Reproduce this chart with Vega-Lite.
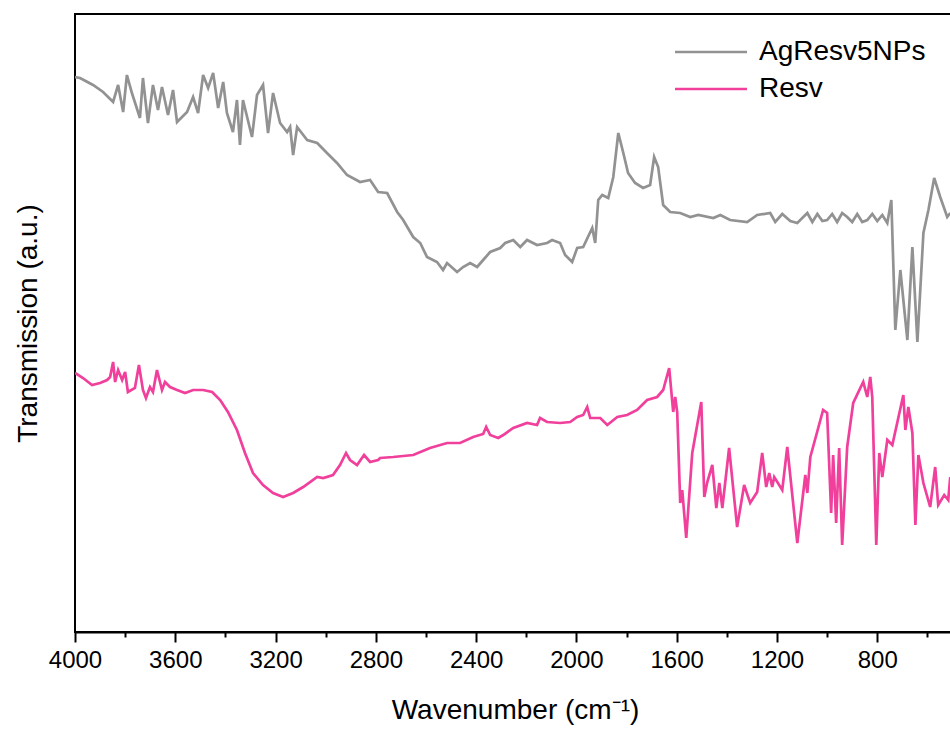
{
  "$schema": "https://vega.github.io/schema/vega-lite/v6.json",
  "width": 880,
  "height": 618,
  "autosize": {"type": "none"},
  "padding": {"left": 75, "top": 14, "right": 0, "bottom": 98},
  "background": "white",
  "config": {
    "view": {"stroke": "black", "strokeWidth": 2},
    "font": "Liberation Sans"
  },
  "datasets": {
    "ag": [
      {"wn":4000,"t":555},{"wn":3980,"t":554},{"wn":3928,"t":547},{"wn":3888,"t":540},{"wn":3848,"t":530},{"wn":3828,"t":547},{"wn":3808,"t":520},{"wn":3793,"t":557},{"wn":3773,"t":539},{"wn":3741,"t":514},{"wn":3729,"t":554},{"wn":3709,"t":509},{"wn":3689,"t":547},{"wn":3669,"t":522},{"wn":3653,"t":545},{"wn":3629,"t":517},{"wn":3609,"t":542},{"wn":3593,"t":510},{"wn":3553,"t":520},{"wn":3529,"t":535},{"wn":3509,"t":519},{"wn":3489,"t":557},{"wn":3469,"t":544},{"wn":3449,"t":559},{"wn":3429,"t":524},{"wn":3409,"t":550},{"wn":3394,"t":519},{"wn":3370,"t":500},{"wn":3354,"t":532},{"wn":3342,"t":487},{"wn":3330,"t":532},{"wn":3294,"t":495},{"wn":3274,"t":537},{"wn":3250,"t":547},{"wn":3230,"t":499},{"wn":3210,"t":539},{"wn":3182,"t":509},{"wn":3154,"t":500},{"wn":3142,"t":505},{"wn":3130,"t":477},{"wn":3114,"t":505},{"wn":3074,"t":492},{"wn":3034,"t":489},{"wn":2995,"t":479},{"wn":2955,"t":469},{"wn":2915,"t":457},{"wn":2863,"t":450},{"wn":2823,"t":452},{"wn":2791,"t":440},{"wn":2755,"t":439},{"wn":2715,"t":420},{"wn":2691,"t":412},{"wn":2651,"t":395},{"wn":2623,"t":389},{"wn":2596,"t":375},{"wn":2556,"t":370},{"wn":2532,"t":362},{"wn":2516,"t":369},{"wn":2476,"t":360},{"wn":2452,"t":365},{"wn":2424,"t":369},{"wn":2396,"t":365},{"wn":2372,"t":372},{"wn":2344,"t":380},{"wn":2304,"t":384},{"wn":2284,"t":389},{"wn":2252,"t":392},{"wn":2224,"t":385},{"wn":2197,"t":392},{"wn":2157,"t":387},{"wn":2117,"t":389},{"wn":2097,"t":392},{"wn":2065,"t":389},{"wn":2045,"t":377},{"wn":2017,"t":370},{"wn":1997,"t":384},{"wn":1973,"t":385},{"wn":1937,"t":404},{"wn":1925,"t":389},{"wn":1913,"t":432},{"wn":1897,"t":437},{"wn":1873,"t":434},{"wn":1853,"t":455},{"wn":1833,"t":499},{"wn":1813,"t":479},{"wn":1794,"t":459},{"wn":1766,"t":449},{"wn":1734,"t":444},{"wn":1706,"t":447},{"wn":1690,"t":475},{"wn":1674,"t":465},{"wn":1654,"t":427},{"wn":1626,"t":420},{"wn":1586,"t":419},{"wn":1546,"t":415},{"wn":1514,"t":417},{"wn":1454,"t":414},{"wn":1426,"t":417},{"wn":1387,"t":412},{"wn":1319,"t":410},{"wn":1279,"t":417},{"wn":1227,"t":419},{"wn":1207,"t":410},{"wn":1179,"t":418},{"wn":1147,"t":411},{"wn":1119,"t":409},{"wn":1079,"t":419},{"wn":1059,"t":410},{"wn":1039,"t":418},{"wn":1019,"t":411},{"wn":1000,"t":412},{"wn":980,"t":418},{"wn":960,"t":410},{"wn":940,"t":419},{"wn":920,"t":415},{"wn":900,"t":410},{"wn":880,"t":418},{"wn":860,"t":410},{"wn":840,"t":412},{"wn":820,"t":418},{"wn":800,"t":411},{"wn":780,"t":417},{"wn":760,"t":409},{"wn":744,"t":432},{"wn":728,"t":302},{"wn":708,"t":362},{"wn":680,"t":292},{"wn":660,"t":385},{"wn":640,"t":290},{"wn":616,"t":399},{"wn":596,"t":422},{"wn":573,"t":454},{"wn":549,"t":435},{"wn":521,"t":415},{"wn":509,"t":419}
    ],
    "resv": [
      {"wn":4000,"t":259},{"wn":3968,"t":254},{"wn":3932,"t":247},{"wn":3900,"t":249},{"wn":3872,"t":252},{"wn":3860,"t":255},{"wn":3848,"t":270},{"wn":3840,"t":250},{"wn":3828,"t":262},{"wn":3812,"t":252},{"wn":3800,"t":260},{"wn":3789,"t":240},{"wn":3761,"t":244},{"wn":3745,"t":267},{"wn":3729,"t":242},{"wn":3717,"t":234},{"wn":3701,"t":245},{"wn":3689,"t":240},{"wn":3673,"t":262},{"wn":3653,"t":242},{"wn":3641,"t":250},{"wn":3621,"t":245},{"wn":3593,"t":242},{"wn":3561,"t":239},{"wn":3529,"t":242},{"wn":3489,"t":242},{"wn":3453,"t":240},{"wn":3421,"t":232},{"wn":3390,"t":220},{"wn":3354,"t":202},{"wn":3322,"t":179},{"wn":3290,"t":159},{"wn":3250,"t":147},{"wn":3210,"t":139},{"wn":3170,"t":135},{"wn":3130,"t":139},{"wn":3090,"t":145},{"wn":3034,"t":155},{"wn":3010,"t":154},{"wn":2971,"t":157},{"wn":2943,"t":167},{"wn":2919,"t":179},{"wn":2903,"t":172},{"wn":2875,"t":167},{"wn":2847,"t":177},{"wn":2823,"t":170},{"wn":2791,"t":172},{"wn":2783,"t":174},{"wn":2731,"t":175},{"wn":2651,"t":177},{"wn":2584,"t":184},{"wn":2516,"t":189},{"wn":2464,"t":189},{"wn":2412,"t":195},{"wn":2372,"t":198},{"wn":2360,"t":205},{"wn":2344,"t":197},{"wn":2312,"t":194},{"wn":2292,"t":197},{"wn":2252,"t":204},{"wn":2197,"t":209},{"wn":2157,"t":207},{"wn":2145,"t":214},{"wn":2117,"t":210},{"wn":2065,"t":209},{"wn":2025,"t":210},{"wn":1997,"t":215},{"wn":1973,"t":217},{"wn":1957,"t":225},{"wn":1945,"t":214},{"wn":1905,"t":214},{"wn":1877,"t":207},{"wn":1837,"t":215},{"wn":1798,"t":217},{"wn":1758,"t":222},{"wn":1718,"t":232},{"wn":1678,"t":235},{"wn":1654,"t":242},{"wn":1630,"t":264},{"wn":1614,"t":220},{"wn":1606,"t":235},{"wn":1598,"t":220},{"wn":1586,"t":129},{"wn":1578,"t":142},{"wn":1562,"t":94},{"wn":1538,"t":179},{"wn":1502,"t":230},{"wn":1490,"t":135},{"wn":1478,"t":150},{"wn":1458,"t":167},{"wn":1442,"t":124},{"wn":1430,"t":149},{"wn":1418,"t":124},{"wn":1391,"t":184},{"wn":1359,"t":105},{"wn":1331,"t":147},{"wn":1307,"t":129},{"wn":1279,"t":140},{"wn":1259,"t":179},{"wn":1243,"t":145},{"wn":1231,"t":159},{"wn":1219,"t":145},{"wn":1211,"t":155},{"wn":1179,"t":142},{"wn":1159,"t":185},{"wn":1119,"t":89},{"wn":1087,"t":157},{"wn":1079,"t":139},{"wn":1067,"t":175},{"wn":1016,"t":222},{"wn":1000,"t":219},{"wn":984,"t":119},{"wn":976,"t":177},{"wn":964,"t":109},{"wn":952,"t":184},{"wn":940,"t":87},{"wn":920,"t":185},{"wn":896,"t":229},{"wn":856,"t":250},{"wn":840,"t":235},{"wn":828,"t":255},{"wn":820,"t":235},{"wn":804,"t":87},{"wn":792,"t":179},{"wn":780,"t":155},{"wn":760,"t":192},{"wn":740,"t":187},{"wn":696,"t":237},{"wn":688,"t":202},{"wn":676,"t":225},{"wn":660,"t":199},{"wn":648,"t":107},{"wn":636,"t":177},{"wn":616,"t":149},{"wn":589,"t":125},{"wn":569,"t":165},{"wn":557,"t":127},{"wn":533,"t":137},{"wn":517,"t":132},{"wn":509,"t":155}
    ]
  },
  "layer": [
    {
      "data": {"name": "ag"},
      "transform": [{"calculate": "'AgResv5NPs'", "as": "series"}],
      "mark": {"type": "line", "strokeWidth": 2.7, "clip": true},
      "encoding": {
        "x": {"field": "wn", "type": "quantitative"},
        "y": {"field": "t", "type": "quantitative"},
        "color": {"field": "series", "type": "nominal"}
      }
    },
    {
      "data": {"name": "resv"},
      "transform": [{"calculate": "'Resv'", "as": "series"}],
      "mark": {"type": "line", "strokeWidth": 2.7, "clip": true},
      "encoding": {
        "x": {"field": "wn", "type": "quantitative"},
        "y": {"field": "t", "type": "quantitative"},
        "color": {"field": "series", "type": "nominal"}
      }
    }
  ],
  "encoding": {
    "x": {
      "field": "wn",
      "type": "quantitative",
      "scale": {"domain": [4000, 490], "nice": false, "zero": false},
      "axis": {
        "title": "Wavenumber (cm⁻¹)",
        "titleFontSize": 28,
        "titleFontWeight": "normal",
        "titleColor": "black",
        "titlePadding": 24,
        "values": [4000,3800,3600,3400,3200,3000,2800,2600,2400,2200,2000,1800,1600,1400,1200,1000,800,600],
        "labelExpr": "datum.value % 400 === 0 ? datum.label : ''",
        "format": "d",
        "labelOverlap": false,
        "labelFontSize": 24,
        "labelColor": "black",
        "labelPadding": 6,
        "labelFlush": false,
        "tickSize": {"condition": {"test": "datum.value % 400 === 0", "value": 10}, "value": 5},
        "tickWidth": 2,
        "tickColor": "black",
        "domainColor": "black",
        "domainWidth": 2,
        "grid": false
      }
    },
    "y": {
      "field": "t",
      "type": "quantitative",
      "scale": {"domain": [0, 618], "nice": false},
      "axis": {
        "title": "Transmission (a.u.)",
        "titleFontSize": 28,
        "titleFontWeight": "normal",
        "titleColor": "black",
        "titlePadding": 33,
        "labels": false,
        "ticks": false,
        "domain": false,
        "grid": false
      }
    },
    "color": {
      "field": "series",
      "type": "nominal",
      "scale": {"domain": ["AgResv5NPs", "Resv"], "range": ["#929292", "#f0409c"]},
      "legend": {
        "title": null,
        "orient": "none",
        "legendX": 622,
        "legendY": 24,
        "padding": 0,
        "symbolType": "M-3,0H3",
        "symbolSize": 576,
        "symbolStrokeWidth": 2.5,
        "labelFontSize": 28,
        "labelColor": "black",
        "labelOffset": 34,
        "rowPadding": 9,
        "labelLimit": 400
      }
    }
  }
}
